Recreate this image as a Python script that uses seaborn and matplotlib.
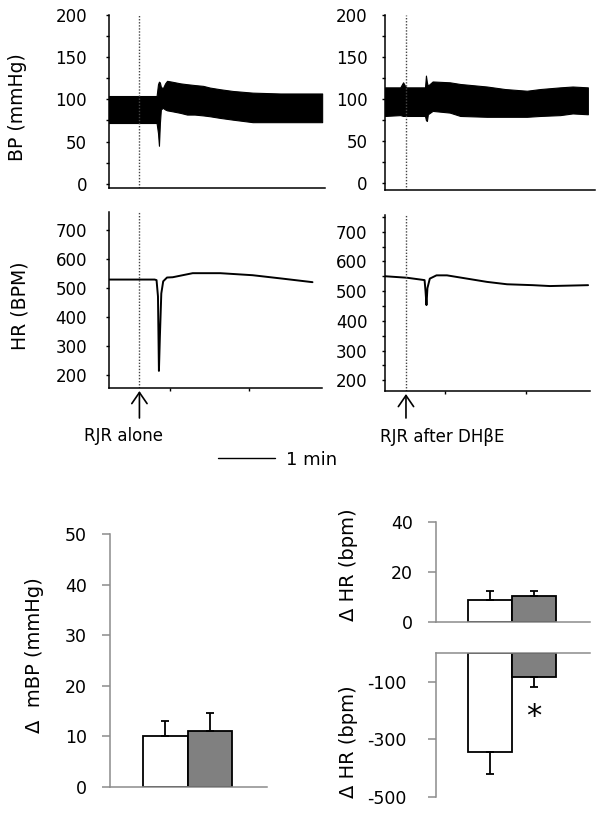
import matplotlib
matplotlib.use("Agg")
import matplotlib.pyplot as plt
import matplotlib.transforms as mtransforms
from matplotlib.ticker import MultipleLocator
import pandas as pd
import seaborn as sns

# ---------------- data ----------------
# Blood-pressure traces: envelope of the pulsatile signal (time in s)
bp_left_t = [0, 48, 50, 51.5, 52.5, 53.5, 54.5, 56.5, 59, 61, 66, 75, 82, 90, 99, 106, 117, 130, 151, 180, 201, 224]
bp_left_sys = [104, 104, 104, 118, 121, 120, 115, 113, 119, 122, 121, 119, 118, 117, 116, 114, 112, 110, 108, 107, 107, 107]
bp_left_dia = [72, 72, 72, 60, 45, 72, 88, 90, 88, 87, 86, 84, 82, 82, 81, 80, 78, 76, 73, 73, 73, 73]

bp_right_t = [0, 16, 19, 22, 42, 43, 44, 45, 50, 68, 79, 107, 126, 149, 163, 184, 197, 213]
bp_right_sys = [114, 114, 120, 114, 114, 128, 120, 116, 121, 120, 118, 115, 112, 110, 112, 114, 115, 114]
bp_right_dia = [80, 81, 80, 80, 80, 75, 74, 82, 86, 84, 80, 79, 79, 79, 80, 81, 83, 82]

# Heart-rate traces (time in s, BPM)
hr_left_t = [0, 48, 50, 51.5, 52.5, 53.5, 55, 57, 61, 67, 88, 117, 151, 183, 214]
hr_left = [528, 528, 526, 470, 213, 330, 480, 522, 535, 536, 550, 550, 543, 531, 519]

hr_right_t = [0, 23, 41.5, 42.5, 43.5, 44.5, 47, 54, 65, 86, 107, 128, 155, 173, 213]
hr_right = [550, 545, 537, 500, 453, 510, 542, 553, 553, 542, 531, 523, 520, 517, 520]

inject_left_t = 32
inject_right_t = 22
scale_bar_start = 114.5
scale_bar_len = 60  # 1 min

# Summary bars
conditions = ["RJR alone", "RJR after DH\u03b2E"]
dmbp_mean = [10, 11]
dmbp_sem = [3.0, 3.7]
dhr_up_mean = [9, 10.4]
dhr_up_sem = [3.5, 2.1]
dhr_down_mean = [-345, -83]
dhr_down_sem = [76, 34]

bp_ticks = [0, 50, 100, 150, 200]
hr_ticks = [200, 300, 400, 500, 600, 700]
mbp_ticks = [0, 10, 20, 30, 40, 50]
hr_up_ticks = [0, 20, 40]
hr_down_ticks = [-100, -300, -500]

# ---------------- figure ----------------
W, H = 602, 816
sns.set_theme(style="ticks")
plt.rcParams["font.family"] = ["DejaVu Sans"]
plt.rcParams["axes.unicode_minus"] = False
plt.rcParams["text.color"] = "black"
plt.rcParams["axes.labelcolor"] = "black"
plt.rcParams["xtick.labelcolor"] = "black"
plt.rcParams["ytick.labelcolor"] = "black"

fig = plt.figure(figsize=(W / 100, H / 100), dpi=100)
fig.patch.set_facecolor("white")


def px_axes(x0, y0, x1, y1):
    return fig.add_axes([x0 / W, 1 - y1 / H, (x1 - x0) / W, (y1 - y0) / H])


def style_trace(ax, xlim, ylim, majors, minor, pad):
    ax.set_xlim(xlim)
    ax.set_ylim(ylim)
    ax.set_facecolor("white")
    sns.despine(ax=ax)
    for s in ("left", "bottom"):
        ax.spines[s].set_color("black")
        ax.spines[s].set_linewidth(1.1)
    ax.set_yticks(majors)
    if minor:
        ax.yaxis.set_minor_locator(MultipleLocator(minor))
    ax.tick_params(axis="y", which="both", direction="out", length=2.2, width=1,
                   color="black", labelcolor="black", labelsize=12, pad=pad)
    ax.set_xticks([])
    ax.set_xlabel("")
    ax.set_ylabel("")


# BP left
ax_bp_l = px_axes(109, 15, 325, 188)
ax_bp_l.fill_between(bp_left_t, bp_left_dia, bp_left_sys, color="black", lw=0.8, edgecolor="black")
ax_bp_l.axvline(inject_left_t, color="#444444", lw=1, ls=(0, (1, 1.2)))
style_trace(ax_bp_l, (0, 227), (-5, 200), bp_ticks, 25, 13.5)

# BP right
ax_bp_r = px_axes(385, 15, 595, 190)
ax_bp_r.fill_between(bp_right_t, bp_right_dia, bp_right_sys, color="black", lw=0.8, edgecolor="black")
ax_bp_r.axvline(inject_right_t, color="#444444", lw=1, ls=(0, (1, 1.2)))
style_trace(ax_bp_r, (0, 220.5), (-8, 200), bp_ticks, 25, 10.5)

# HR left
ax_hr_l = px_axes(109, 212, 322, 388)
sns.lineplot(x=hr_left_t, y=hr_left, ax=ax_hr_l, color="black", lw=1.4)
ax_hr_l.axvline(inject_left_t, color="#444444", lw=1, ls=(0, (1, 1.2)))
style_trace(ax_hr_l, (0, 224), (154, 761), hr_ticks, None, 13.5)
ax_hr_l.set_xticks([64, 147])
ax_hr_l.set_xticklabels([])
ax_hr_l.tick_params(axis="x", direction="out", length=2.2, width=1, color="black")

# HR right
ax_hr_r = px_axes(385, 215, 590, 391)
sns.lineplot(x=hr_right_t, y=hr_right, ax=ax_hr_r, color="black", lw=1.4)
ax_hr_r.axvline(inject_right_t, color="#444444", lw=1, ls=(0, (1, 1.2)))
style_trace(ax_hr_r, (0, 215), (164, 756), hr_ticks, 50, 10.5)
ax_hr_r.set_xticks([63, 148])
ax_hr_r.set_xticklabels([])
ax_hr_r.tick_params(axis="x", direction="out", length=2.2, width=1, color="black")

# Trace y labels
fig.text(18 / W, 1 - 107 / H, "BP (mmHg)", rotation=90, ha="center", va="center", fontsize=13.5, color="black")
fig.text(20 / W, 1 - 306 / H, "HR (BPM)", rotation=90, ha="center", va="center", fontsize=13.5, color="black")

# Injection arrows + labels
for ax, t, ytop, ybot in ((ax_hr_l, inject_left_t, 391, 418), (ax_hr_r, inject_right_t, 394, 418)):
    tr = mtransforms.blended_transform_factory(ax.transData, fig.transFigure)
    ax.annotate("", xy=(t, 1 - ytop / H), xycoords=tr, xytext=(t, 1 - ybot / H), textcoords=tr,
                arrowprops=dict(arrowstyle="->,head_length=0.8,head_width=0.55", lw=1.2,
                                color="black", mutation_scale=10, shrinkA=0, shrinkB=0),
                annotation_clip=False)

fig.text(124 / W, 1 - 436 / H, conditions[0], ha="center", va="center", fontsize=12, color="black")
fig.text(442 / W, 1 - 437 / H, conditions[1], ha="center", va="center", fontsize=12, color="black")

# Scale bar
tr = mtransforms.blended_transform_factory(ax_hr_l.transData, fig.transFigure)
ax_hr_l.plot([scale_bar_start, scale_bar_start + scale_bar_len], [1 - 458 / H, 1 - 458 / H],
             transform=tr, color="black", lw=1, clip_on=False)
fig.text(286 / W, 1 - 460 / H, "1 min", ha="left", va="center", fontsize=13, color="black")

# ---------------- bar charts ----------------
GREY_AX = "#8c8c8c"
palette = ["white", "#808080"]
XL = (-1.23, 2.27)


def bar_panel(ax, means, sems, ticks, ylim, pad, down=False):
    df = pd.DataFrame({"cond": conditions, "val": means})
    sns.barplot(data=df, x="cond", y="val", hue="cond", palette=palette, width=1,
                edgecolor="black", linewidth=1.3, errorbar=None, legend=False, ax=ax)
    if down:
        yerr = [sems, [0] * len(sems)]
    else:
        yerr = [[0] * len(sems), sems]
    ax.errorbar([0, 1], means, yerr=yerr, fmt="none", ecolor="black", elinewidth=1.3,
                capsize=2.6, capthick=1.3)
    ax.set_xlim(XL)
    ax.set_ylim(ylim)
    ax.set_yticks(ticks)
    ax.set_xticks([])
    ax.set_xlabel("")
    ax.set_ylabel("")
    for s in ax.spines.values():
        s.set_visible(False)
    ax.spines["left"].set_visible(True)
    ax.spines["left"].set_color(GREY_AX)
    ax.spines["left"].set_linewidth(1.1)
    edge = "top" if down else "bottom"
    ax.spines[edge].set_visible(True)
    ax.spines[edge].set_color(GREY_AX)
    ax.spines[edge].set_linewidth(1.1)
    ax.tick_params(axis="y", direction="out", length=5.5, width=1.1, color=GREY_AX,
                   labelcolor="black", labelsize=12.5, pad=pad)


ax_mbp = px_axes(110, 534, 267, 787)
bar_panel(ax_mbp, dmbp_mean, dmbp_sem, mbp_ticks, (0, 50), 11)
fig.text(35 / W, 1 - 655 / H, "\u0394  mBP (mmHg)", rotation=90, ha="center", va="center", fontsize=14, color="black")

ax_up = px_axes(436, 522, 590, 622)
bar_panel(ax_up, dhr_up_mean, dhr_up_sem, hr_up_ticks, (0, 40), 11)
fig.text(349 / W, 1 - 565 / H, "\u0394 HR (bpm)", rotation=90, ha="center", va="center", fontsize=14, color="black")

ax_dn = px_axes(436, 653, 590, 797)
bar_panel(ax_dn, dhr_down_mean, dhr_down_sem, hr_down_ticks, (-500, 0), 15.5, down=True)
fig.text(349 / W, 1 - 742 / H, "\u0394 HR (bpm)", rotation=90, ha="center", va="center", fontsize=14, color="black")

# significance marker
ax_dn.text(1, -220, "*", ha="center", va="center", fontsize=22, color="black")

fig.savefig("out.png", dpi=100, facecolor="white")
